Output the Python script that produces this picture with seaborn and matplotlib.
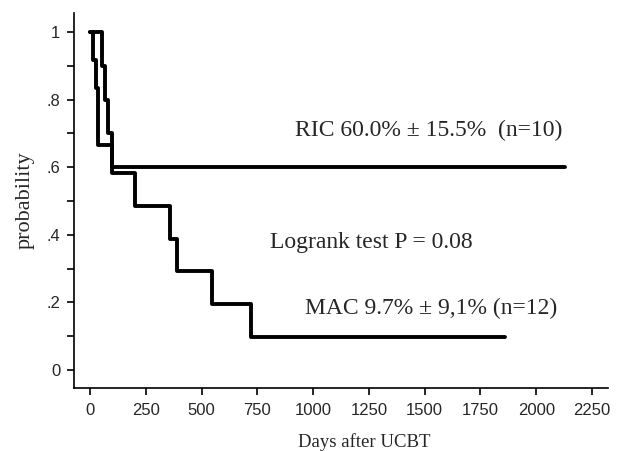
import numpy as np
import pandas as pd
import matplotlib
matplotlib.use("Agg")
import matplotlib.pyplot as plt
import seaborn as sns

# Kaplan-Meier step values
ric_days = [0, 52, 67, 82, 100, 2129]
ric_prob = [1.0, 0.9, 0.8, 0.7, 0.6, 0.6]

mac_days = [0, 15, 28, 36, 97, 201, 356, 389, 545, 720, 1860]
mac_prob = [1.0, 0.917, 0.833, 0.667, 0.583, 0.486, 0.389, 0.292, 0.194, 0.097, 0.097]

x_ticks = [0, 250, 500, 750, 1000, 1250, 1500, 1750, 2000, 2250]
y_ticks = [0, 0.2, 0.4, 0.6, 0.8, 1.0]
y_tick_labels = ["0", ".2", ".4", ".6", ".8", "1"]
y_minor = [0.1, 0.3, 0.5, 0.7, 0.9]

ric_label = "RIC 60.0% \u00b1 15.5%  (n=10)"
mac_label = "MAC 9.7% \u00b1 9,1% (n=12)"
test_label = "Logrank test P = 0.08"

sns.set_style("ticks")
plt.rcParams['font.family'] = ['Liberation Sans', 'DejaVu Sans']

ric = pd.DataFrame({'days': ric_days, 'prob': ric_prob})
mac = pd.DataFrame({'days': mac_days, 'prob': mac_prob})

fig = plt.figure(figsize=(6.17, 4.51), dpi=100)
ax = fig.add_axes([0.12, 0.1397, 0.8655, 0.8315])

sns.lineplot(data=ric, x='days', y='prob', ax=ax, estimator=None,
             drawstyle='steps-post', color='black', linewidth=2.8)
sns.lineplot(data=mac, x='days', y='prob', ax=ax, estimator=None,
             drawstyle='steps-post', color='black', linewidth=2.8)

ax.set_xlim(-72, 2322)
ax.set_ylim(-0.053, 1.056)
ax.set_xticks(x_ticks)
ax.set_xticklabels([str(t) for t in x_ticks])
ax.set_yticks(y_ticks)
ax.set_yticklabels(y_tick_labels)
ax.set_yticks(y_minor, minor=True)
ax.tick_params(axis='both', which='both', direction='out', length=5,
               width=1.2, color='black', labelsize=12)
ax.tick_params(axis='x', pad=6)
ax.tick_params(axis='y', pad=5)

serif = ['Liberation Serif', 'DejaVu Serif']
ax.set_xlabel('Days after UCBT', family=serif, fontsize=13.5, labelpad=11, x=0.543)
ax.set_ylabel('probability', family=serif, fontsize=16, labelpad=8)

ax.text(919, 0.71, ric_label, family=serif, fontsize=17, va='center', ha='left')
ax.text(807, 0.376, test_label, family=serif, fontsize=17, va='center', ha='left')
ax.text(964, 0.183, mac_label, family=serif, fontsize=17, va='center', ha='left')

sns.despine(ax=ax)
for s in ['left', 'bottom']:
    ax.spines[s].set_linewidth(1.2)
    ax.spines[s].set_color('black')

fig.savefig('out.png', dpi=100)
